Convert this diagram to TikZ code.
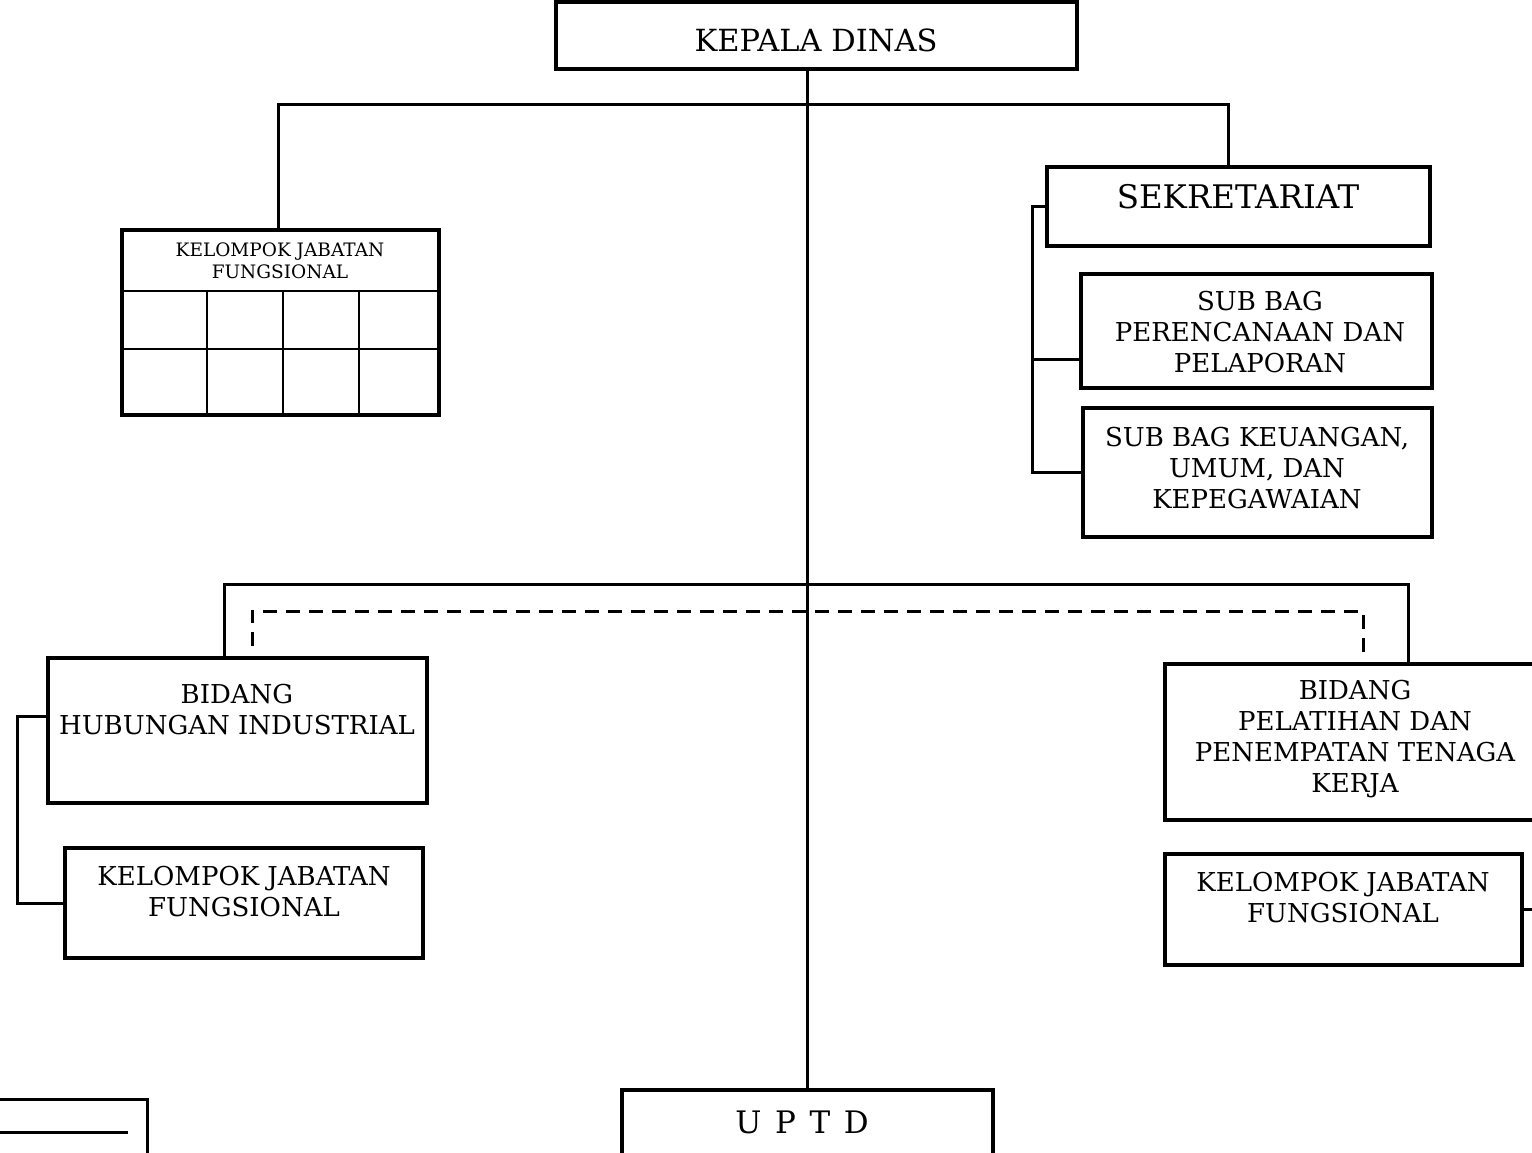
\documentclass[tikz,border=0pt]{standalone}
\usepackage{fontspec}
\setmainfont{DejaVu Serif}
\newfontfamily\spacedfont[LetterSpace=12]{DejaVu Serif}
\usepackage{tikz}

\tikzset{
  unit/.style={draw, rectangle, line width=4pt, inner sep=0pt},
  conn/.style={line width=3pt},
  dashline/.style={line width=3pt, dash pattern=on 14pt off 9pt},
  gridline/.style={line width=2pt},
  lbl/.style={align=center, font=\fontsize{26}{31}\selectfont},
}

\begin{document}
\begin{tikzpicture}[x=1pt, y=-1pt]
  \useasboundingbox (0,0) rectangle (1532,1153);
  \clip (0,0) rectangle (1532,1153);

  \node[unit, minimum width=521pt, minimum height=67pt] (kadis) at (816.5,35.5) {};
  \node[lbl, font=\fontsize{30.5}{37}\selectfont] (kadis-t) at (816,40) {KEPALA DINAS};

  \node[unit, minimum width=317pt, minimum height=185pt] (kjf) at (280.5,322.5) {};
  \node[lbl, font=\fontsize{18.5}{22}\selectfont] (kjf-t) at (280,261) {KELOMPOK JABATAN\\FUNGSIONAL};
  \foreach \y in {291,349} \draw[gridline] (122,\y) -- (439,\y);
  \foreach \x in {207,283,359} \draw[gridline] (\x,291) -- (\x,415);

  \node[unit, minimum width=383pt, minimum height=79pt] (sekr) at (1238.5,206.5) {};
  \node[lbl, font=\fontsize{32.5}{38}\selectfont] (sekr-t) at (1238,197) {SEKRETARIAT};
  \node[unit, minimum width=351pt, minimum height=114pt] (sub1) at (1256.5,331) {};
  \node[lbl] (sub1-t) at (1260,332) {SUB BAG\\PERENCANAAN DAN\\PELAPORAN};
  \node[unit, minimum width=349pt, minimum height=129pt] (sub2) at (1257.5,472.5) {};
  \node[lbl] (sub2-t) at (1257,468) {SUB BAG KEUANGAN,\\UMUM, DAN\\KEPEGAWAIAN};

  \node[unit, minimum width=379pt, minimum height=145pt] (bidhi) at (237.5,730.5) {};
  \node[lbl] (bidhi-t) at (237,710) {BIDANG\\HUBUNGAN INDUSTRIAL};
  \node[unit, minimum width=358pt, minimum height=110pt] (kjfhi) at (244,903) {};
  \node[lbl] (kjfhi-t) at (244,892) {KELOMPOK JABATAN\\FUNGSIONAL};

  \node[unit, minimum width=380pt, minimum height=156pt] (bidpp) at (1355,742) {};
  \node[lbl] (bidpp-t) at (1355,739) {BIDANG\\PELATIHAN DAN\\PENEMPATAN TENAGA\\KERJA};
  \node[unit, minimum width=357pt, minimum height=111pt] (kjfpp) at (1343.5,909.5) {};
  \node[lbl] (kjfpp-t) at (1343,898) {KELOMPOK JABATAN\\FUNGSIONAL};

  \node[unit, minimum width=371pt, minimum height=100pt] (uptd) at (807.5,1140) {};
  \node[lbl, font=\spacedfont\fontsize{31}{36}\selectfont] (uptd-t) at (802,1122) {U P T D};

  \coordinate (bartop) at (807.5,105);
  \coordinate (barl) at (224,584);
  \coordinate (barr) at (1408,584);
  \coordinate (dashl) at (252,611);
  \coordinate (dashr) at (1363,611);
  \coordinate (sbrk) at (1032,359);
  \coordinate (hbrk) at (17,716);

  \draw[conn] (kadis.south -| uptd.north) -- (uptd.north);
  \draw[conn] (kjf.north -| 278,0) |- (bartop) -| ([xshift=-10.5pt]sekr.north);
  \draw[conn] (barl |- bidhi.north) -- (barl) -- (barr) -- (barr |- bidpp.north);
  \draw[dashline] (dashl) ++(0,35) -- (dashl) -- (dashr) -- ++(0,49);
  \draw[conn] (sekr.west) -| (sbrk) |- (sub2.west);
  \draw[conn] (sbrk) -- (sbrk -| sub1.west);
  \draw[conn] (bidhi.west |- hbrk) -- (hbrk) |- (kjfhi.west);
  \draw[conn] (kjfpp.east) -- ++(30,0);

  \draw[conn] (0,1099) -| (147,1160);
  \draw[conn] (0,1132) -- (128,1132);
\end{tikzpicture}
\end{document}
